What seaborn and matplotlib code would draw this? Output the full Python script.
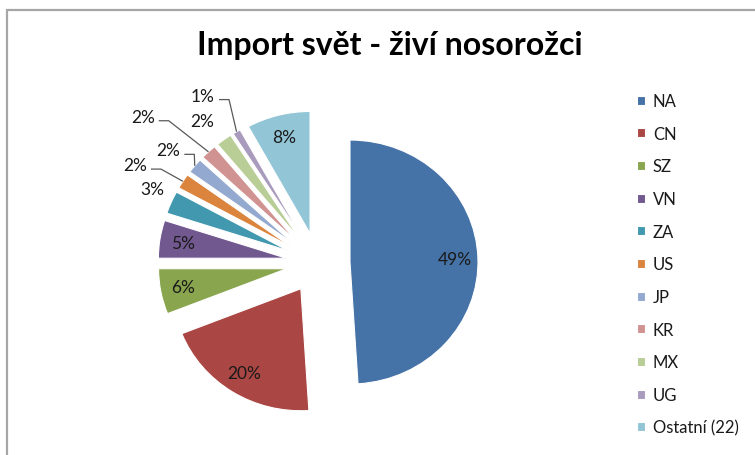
import numpy as np
import matplotlib
matplotlib.use("Agg")
import matplotlib.pyplot as plt
import seaborn as sns
from matplotlib.patches import Rectangle

# Import of live rhinos by country, share in %
countries = ["NA", "CN", "SZ", "VN", "ZA", "US", "JP", "KR", "MX", "UG", "Ostatní (22)"]
shares = [49, 20, 6, 5, 3, 2, 2, 2, 2, 1, 8]
colors = ["#4572A7", "#AA4643", "#89A54E", "#71588F", "#4198AF", "#DB843D",
          "#93A9CF", "#D19392", "#B9CD96", "#A99BBD", "#92C5D6"]

sns.set_theme(style="white")
plt.rcParams["font.family"] = ["Lato", "DejaVu Sans"]

W, H = 755, 456
fig = plt.figure(figsize=(W / 100, H / 100), dpi=100)

# pie centre and radius in pixels (the original is a bit wider than tall)
cx, cy, rx, ry = 318, 264, 128, 122
left, right, top = 60, 600, 60
ax = fig.add_axes([left / W, 0, (right - left) / W, (H - top) / H])

wedges, texts, autotexts = ax.pie(
    shares, colors=colors, startangle=90, counterclock=False,
    explode=[0.25] * len(shares), autopct="%1.0f%%", pctdistance=0.82,
    wedgeprops=dict(linewidth=0.8, edgecolor="white"),
    textprops=dict(fontsize=12.5, color="#1a1a1a"))
ax.set_aspect("auto")
ax.set_xlim((left - cx) / rx, (right - cx) / rx)
ax.set_ylim(-(H - cy) / ry, (cy - top) / ry)

# small slices get their labels outside: (distance, angular nudge clockwise in deg)
outside = {4: (1.43, 1.7), 5: (1.64, -3.1), 6: (1.49, -1.3),
           7: (1.82, -5.6), 8: (1.47, -1.9), 9: (1.64, -2.6)}
with_leader = [5, 6, 7, 9]

for i, (dist, nudge) in outside.items():
    w = wedges[i]
    mid = np.deg2rad((w.theta1 + w.theta2) / 2)
    a = mid - np.deg2rad(nudge)
    lx, ly = dist * np.cos(a), dist * np.sin(a)
    autotexts[i].set_position((lx, ly))
    if i in with_leader:
        tx = w.center[0] + w.r * np.cos(mid)
        ty = w.center[1] + w.r * np.sin(mid)
        sx, sy = lx + 16 / rx, ly - 4 / ry
        kx = sx + 10 / rx
        ax.plot([sx, kx, tx], [sy, sy, ty], color="#595959", lw=0.9,
                solid_capstyle="butt", clip_on=False)

fig.text(390 / W, 1 - 46 / H, "Import svět - živí nosorožci", ha="center",
         va="center", fontsize=23, fontweight="bold", color="black")

fig.legend(wedges, countries, loc="upper left", bbox_to_anchor=(637 / W, 1 - 94 / H),
           frameon=False, fontsize=12, handlelength=0.45, handleheight=0.45,
           handletextpad=0.5, labelspacing=1.0, borderaxespad=0, borderpad=0,
           labelcolor="#1a1a1a")

# chart border, only top and left edges are visible in the crop
fig.add_artist(Rectangle((7 / W, -0.1), 1.2, (H - 11) / H + 0.1,
                         transform=fig.transFigure, fill=False,
                         edgecolor="#a6a6a6", linewidth=1.6))

fig.savefig("out.png", dpi=100)
